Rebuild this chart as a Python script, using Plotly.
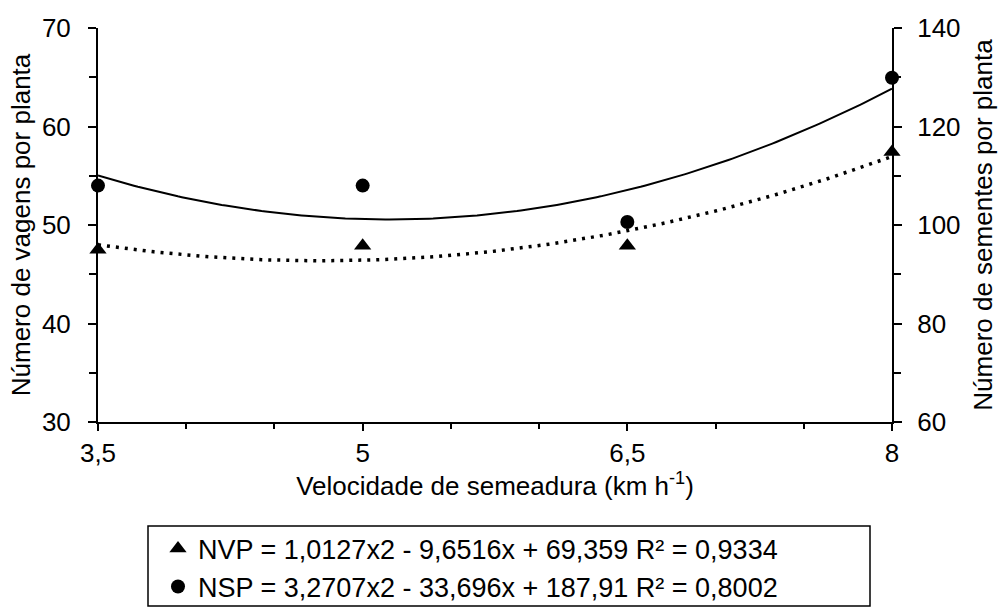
import numpy as np
import plotly.graph_objects as go

# ---- data ----
speed = [3.5, 5.0, 6.5, 8.0]                  # km h-1
nvp = [47.5, 47.9, 47.9, 57.4]                # número de vagens por planta (left axis)
nsp = [108.0, 108.0, 100.6, 129.9]            # número de sementes por planta (right axis)
x_ticks = [3.5, 5.0, 6.5, 8.0]
x_ticktext = ["3,5", "5", "6,5", "8"]

# regression coefficients printed in the legend (a*x^2 + b*x + c)
nvp_coef = [1.0127, -9.6516, 69.359]
nsp_coef = [3.2707, -33.696, 187.91]
nvp_label = "NVP = 1,0127x2 - 9,6516x + 69,359 R² = 0,9334"
nsp_label = "NSP = 3,2707x2 - 33,696x + 187,91 R² = 0,8002"

xs = np.linspace(min(speed), max(speed), 200)
nvp_fit = np.polyval(nvp_coef, xs)
nsp_fit = np.polyval(nsp_coef, xs)

FONT = "Liberation Sans, Arial, sans-serif"
FS = 26
LFS = 27

fig = go.Figure()
fig.add_trace(go.Scatter(x=xs, y=nvp_fit, mode="lines", showlegend=False,
                         line=dict(color="black", width=3.5, dash="3px,6px"),
                         hoverinfo="skip", cliponaxis=False))
fig.add_trace(go.Scatter(x=xs, y=nsp_fit, mode="lines", showlegend=False, yaxis="y2",
                         line=dict(color="black", width=2), hoverinfo="skip",
                         cliponaxis=False))
fig.add_trace(go.Scatter(x=speed, y=nvp, mode="markers", name=nvp_label, legend="legend",
                         cliponaxis=False,
                         marker=dict(symbol="triangle-up", size=15, color="black")))
fig.add_trace(go.Scatter(x=speed, y=nsp, mode="markers", name=nsp_label, legend="legend2",
                         yaxis="y2", cliponaxis=False,
                         marker=dict(symbol="circle", size=14, color="black")))

W, H = 1000, 615
L, R, T, B = 98, 108, 28, 193
pw, ph = W - L - R, H - T - B

def px(xpix):
    return (xpix - L) / pw

def py(ypix):
    return (H - B - ypix) / ph

axis_common = dict(showgrid=False, zeroline=False, showline=True, linecolor="black",
                   linewidth=2, ticks="outside", tickcolor="black", tickwidth=2,
                   automargin=False,
                   tickfont=dict(family=FONT, size=FS, color="black"))

fig.update_layout(
    width=W, height=H,
    margin=dict(l=L, r=R, t=T, b=B, autoexpand=False),
    paper_bgcolor="white", plot_bgcolor="white",
    font=dict(family=FONT, size=FS, color="black"),
    xaxis=dict(**axis_common, range=[3.5, 8], tickvals=x_ticks, ticktext=x_ticktext,
               ticklen=7, ticklabelstandoff=0,
               minor=dict(dtick=0.5, tick0=3.5, ticks="outside", ticklen=5,
                          tickcolor="black", tickwidth=1.5),
               title=dict(text="Velocidade de semeadura (km h<sup>-1</sup>)",
                          font=dict(family=FONT, size=FS, color="black"), standoff=2)),
    yaxis=dict(**axis_common, range=[30, 70], dtick=10, tick0=30, ticklen=8,
               ticklabelstandoff=12,
               minor=dict(dtick=5, ticks="outside", ticklen=7, tickcolor="black",
                          tickwidth=1.5),
               title=dict(text="Número de vagens por planta",
                          font=dict(family=FONT, size=FS, color="black"), standoff=4)),
    yaxis2=dict(**axis_common, range=[60, 140], dtick=20, tick0=60, ticklen=8,
                ticklabelstandoff=10, overlaying="y", side="right", anchor="x",
                minor=dict(dtick=10, ticks="outside", ticklen=7, tickcolor="black",
                           tickwidth=1.5),
                title=dict(text="Número de sementes por planta",
                           font=dict(family=FONT, size=FS, color="black"), standoff=14)),
    legend=dict(x=px(158), y=py(549), xanchor="left", yanchor="middle",
                bgcolor="rgba(0,0,0,0)", borderwidth=0,
                font=dict(family=FONT, size=LFS, color="black")),
    legend2=dict(x=px(158), y=py(587), xanchor="left", yanchor="middle",
                 bgcolor="rgba(0,0,0,0)", borderwidth=0,
                 font=dict(family=FONT, size=LFS, color="black")),
    shapes=[dict(type="rect", xref="paper", yref="paper",
                 x0=px(148), x1=px(870), y0=py(526), y1=py(606),
                 line=dict(color="black", width=1.5), fillcolor="rgba(0,0,0,0)")],
)

fig.write_html("out.html")
